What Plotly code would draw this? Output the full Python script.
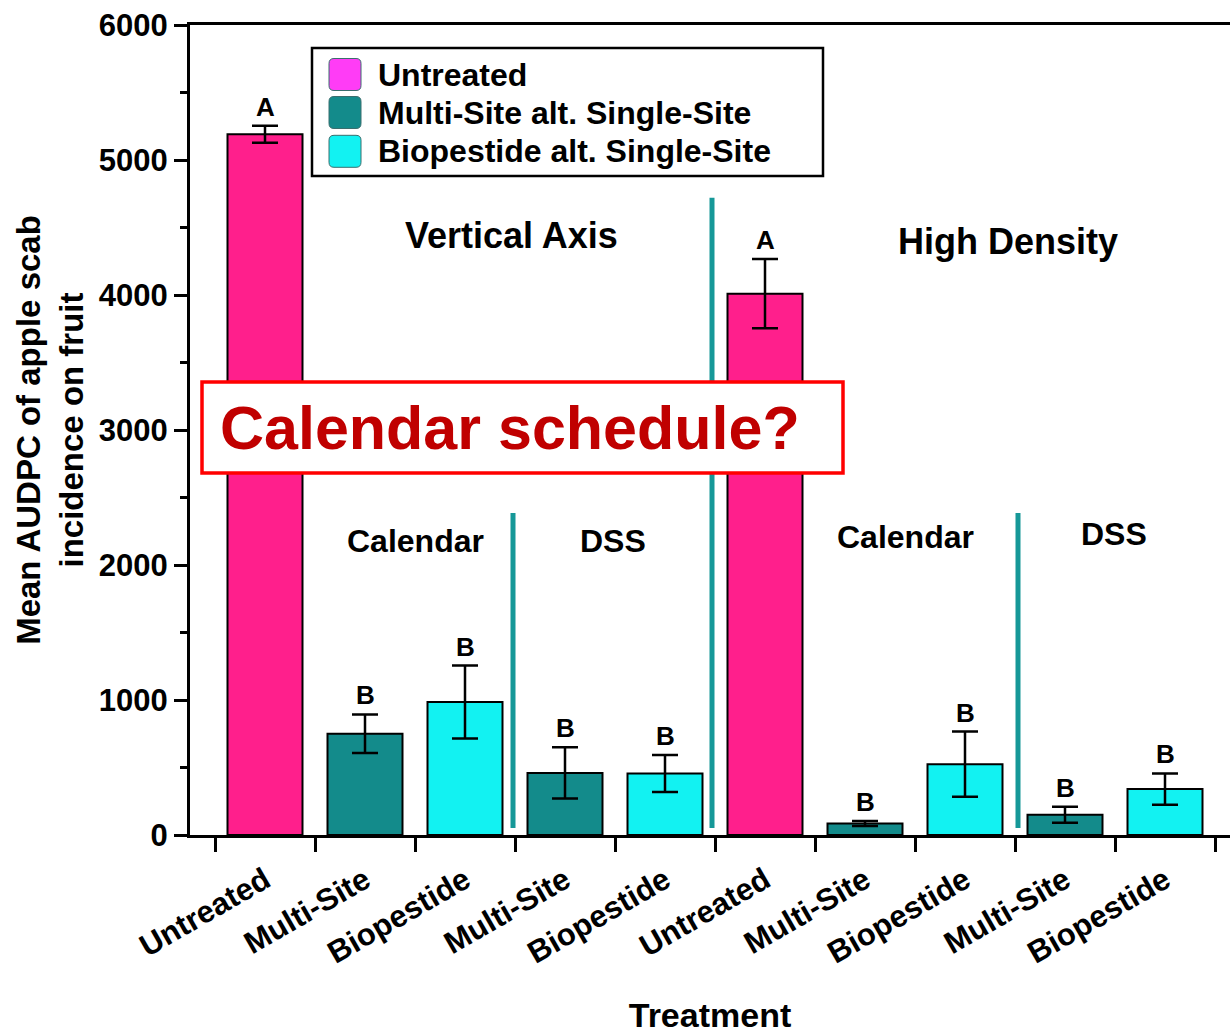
import plotly.graph_objects as go

# ---- data -------------------------------------------------------------
categories = ["Untreated", "Multi-Site", "Biopestide", "Multi-Site", "Biopestide",
              "Untreated", "Multi-Site", "Biopestide", "Multi-Site", "Biopestide"]
programs = ["Untreated", "Multi-Site alt. Single-Site", "Biopestide alt. Single-Site"]
program_of_bar = [0, 1, 2, 1, 2, 0, 1, 2, 1, 2]
mean_audpc = [5190, 750, 985, 460, 455, 4010, 85, 525, 150, 340]
std_err = [63, 143, 270, 190, 137, 257, 18, 241, 59, 116]
letters = ["A", "B", "B", "B", "B", "A", "B", "B", "B", "B"]

orchards = ["Vertical Axis", "High Density"]
timings = ["Calendar", "DSS", "Calendar", "DSS"]

bar_colors = ["#ff1f8c", "#138b8b", "#12f2f2"]
legend_colors = ["#ff3cf6", "#138b8b", "#12f2f2"]
divider_color = "#169898"

FONT = "Liberation Sans, Arial, sans-serif"

# plot-area geometry in pixels (used for the hand-drawn legend and callout box)
W, H = 1230, 1034
ML, MR, MT, MB = 190, 0, 25, 199
PW, PH = W - ML - MR, H - MT - MB


def px_x(px):
    return (px - ML) / PW


def px_y(py):
    return (H - MB - py) / PH


fig = go.Figure()

x_pos = list(range(len(categories)))
for k, name in enumerate(programs):
    idx = [i for i, p in enumerate(program_of_bar) if p == k]
    fig.add_trace(go.Bar(
        x=[x_pos[i] for i in idx],
        y=[mean_audpc[i] for i in idx],
        width=0.75,
        name=name,
        showlegend=False,
        marker=dict(color=bar_colors[k], line=dict(color="black", width=2)),
        error_y=dict(type="data", array=[std_err[i] for i in idx],
                     color="black", thickness=2.5, width=13),
    ))

# mean-separation letters above each error bar
annotations = []
for i in x_pos:
    annotations.append(dict(
        x=i, y=mean_audpc[i] + std_err[i], xref="x", yref="y",
        text=letters[i], showarrow=False, yanchor="bottom", yshift=2,
        font=dict(family=FONT, size=26, color="black", weight="bold"),
    ))

# orchard and timing headings
orchard_pos = [(2.46, 4440), (7.43, 4400)]
for label, (xx, yy) in zip(orchards, orchard_pos):
    annotations.append(dict(x=xx, y=yy, xref="x", yref="y", text=label, showarrow=False,
                            font=dict(family=FONT, size=36, color="black", weight="bold")))
timing_pos = [(1.5, 2180), (3.48, 2180), (6.4, 2205), (8.49, 2228)]
for label, (xx, yy) in zip(timings, timing_pos):
    annotations.append(dict(x=xx, y=yy, xref="x", yref="y", text=label, showarrow=False,
                            font=dict(family=FONT, size=32, color="black", weight="bold")))

shapes = []

# vertical dividers between orchard systems and timing strategies
dividers = [(2.48, 52, 2385), (4.47, 52, 4720), (7.53, 52, 2385)]
for xx, ya, yb in dividers:
    shapes.append(dict(type="line", xref="x", yref="y", x0=xx, x1=xx, y0=ya, y1=yb,
                       line=dict(color=divider_color, width=5), layer="above"))

# legend drawn as a framed box with rounded swatches
shapes.append(dict(type="rect", xref="paper", yref="paper",
                   x0=px_x(312), x1=px_x(823), y0=px_y(176), y1=px_y(48),
                   line=dict(color="black", width=2.5), fillcolor="white", layer="above"))
row_centers = [74.5, 112.5, 151.3]
for k, name in enumerate(programs):
    cy = row_centers[k]
    x0, x1, y0, y1, r = 329, 361, cy - 16, cy + 16, 5
    path = (f"M {px_x(x0 + r)},{px_y(y0)} L {px_x(x1 - r)},{px_y(y0)} "
            f"Q {px_x(x1)},{px_y(y0)} {px_x(x1)},{px_y(y0 + r)} "
            f"L {px_x(x1)},{px_y(y1 - r)} Q {px_x(x1)},{px_y(y1)} {px_x(x1 - r)},{px_y(y1)} "
            f"L {px_x(x0 + r)},{px_y(y1)} Q {px_x(x0)},{px_y(y1)} {px_x(x0)},{px_y(y1 - r)} "
            f"L {px_x(x0)},{px_y(y0 + r)} Q {px_x(x0)},{px_y(y0)} {px_x(x0 + r)},{px_y(y0)} Z")
    shapes.append(dict(type="path", xref="paper", yref="paper", path=path,
                       fillcolor=legend_colors[k], line=dict(color="#3a6e6e", width=1),
                       layer="above"))
    annotations.append(dict(x=px_x(376), y=px_y(cy), xref="paper", yref="paper",
                            text=name, showarrow=False, xanchor="left", yanchor="middle",
                            font=dict(family=FONT, size=32, color="black", weight="bold")))

# highlighted question box, drawn over everything else
shapes.append(dict(type="rect", xref="paper", yref="paper",
                   x0=px_x(202), x1=px_x(843), y0=px_y(473), y1=px_y(382),
                   line=dict(color="#ff0000", width=3.5), fillcolor="white", layer="above"))
annotations.append(dict(
    x=px_x(218), y=px_y(428), xref="paper", yref="paper", text="Calendar schedule?",
    showarrow=False, xanchor="left", yanchor="middle",
    font=dict(family=FONT, size=61, color="#c00000", weight="bold"),
))

fig.update_layout(
    width=W, height=H,
    margin=dict(l=ML, r=MR, t=MT, b=MB, autoexpand=False),
    paper_bgcolor="white", plot_bgcolor="white",
    barmode="overlay",
    showlegend=False,
    annotations=annotations,
    shapes=shapes,
    xaxis=dict(
        range=[-0.75, 9.65],
        tickmode="array", tickvals=x_pos, ticktext=categories,
        tickangle=-30,
        ticks="outside", ticklen=12, tickcolor="rgba(0,0,0,0)",
        tickfont=dict(family=FONT, size=31, color="black", weight="bold"),
        minor=dict(tickmode="array", tickvals=[i - 0.5 for i in range(len(categories) + 1)],
                   ticks="outside", ticklen=14, tickwidth=3, tickcolor="black"),
        showline=True, linecolor="black", linewidth=3, mirror=True,
        showgrid=False, zeroline=False,
        title=dict(text="Treatment", standoff=44,
                   font=dict(family=FONT, size=34, color="black", weight="bold")),
    ),
    yaxis=dict(
        range=[0, 6000],
        tickmode="linear", tick0=0, dtick=1000,
        ticks="outside", ticklen=13, tickwidth=3, tickcolor="black",
        minor=dict(dtick=500, ticks="outside", ticklen=7, tickwidth=3, tickcolor="black"),
        tickfont=dict(family=FONT, size=31, color="black", weight="bold"),
        showline=True, linecolor="black", linewidth=3,
        showgrid=False, zeroline=False,
        title=dict(text="Mean AUDPC of apple scab<br>incidence on fruit", standoff=6,
                   font=dict(family=FONT, size=33, color="black", weight="bold")),
    ),
)

fig.write_html("out.html")
